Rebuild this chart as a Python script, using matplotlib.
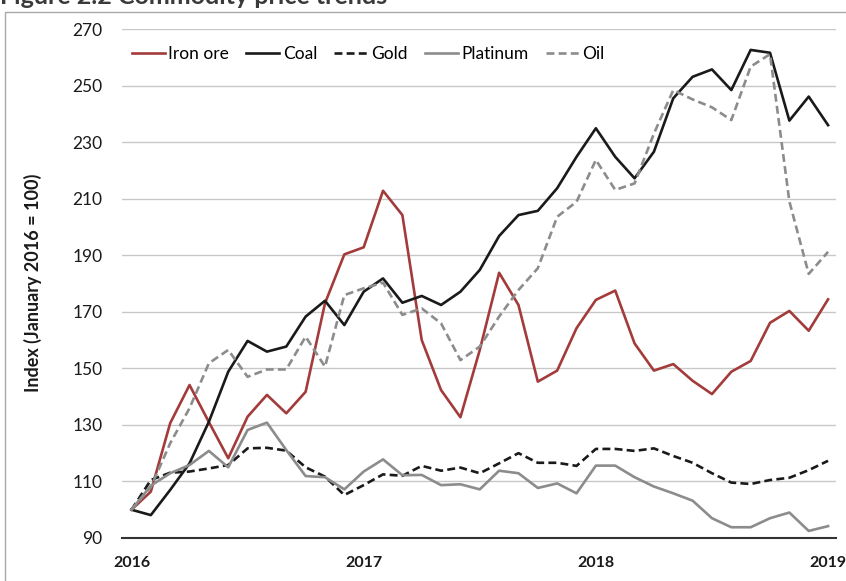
import matplotlib
matplotlib.use("Agg")
import matplotlib.pyplot as plt
from matplotlib.patches import Rectangle

plt.rcParams['font.family'] = ['Lato', 'DejaVu Sans']

# monthly index values, Jan 2016 .. Jan 2019 (Jan 2016 = 100)
months = list(range(37))
iron_ore = [100, 106.4, 130.6, 144.1, 131, 118.2, 132.9, 140.6, 134.1, 141.7,
            173, 190.3, 192.8, 212.8, 204.2, 160.0, 142.3, 132.7, 156.5, 183.8,
            172.4, 145.3, 149.2, 164.2, 174.2, 177.5, 158.8, 149.2, 151.5, 145.6,
            140.9, 148.8, 152.6, 166.1, 170.3, 163.3, 174.4]
coal = [100, 98.1, 107.0, 116.4, 131.1, 148.8, 159.7, 155.9, 157.7, 168.3,
        173.9, 165.3, 177.1, 181.8, 173.2, 175.6, 172.4, 177.1, 184.8, 196.8,
        204.2, 205.7, 213.7, 224.8, 234.9, 224.8, 217.2, 226.6, 245.5, 253.1,
        255.7, 248.4, 262.6, 261.6, 237.6, 246.1, 236.0]
gold = [100, 110.5, 113.1, 113.5, 114.6, 115.8, 121.7, 121.9, 120.9, 115.0,
        111.7, 105.2, 108.7, 112.5, 112.0, 115.5, 113.8, 114.9, 112.9, 116.4,
        120.0, 116.6, 116.6, 115.5, 121.5, 121.5, 120.8, 121.7, 119.0, 116.6,
        112.9, 109.6, 109.1, 110.5, 111.3, 114.0, 117.3]
platinum = [100, 108.5, 112.9, 115.8, 120.8, 115.0, 128.2, 130.8, 121.1, 111.9,
            111.5, 107.2, 113.5, 117.8, 112.2, 112.3, 108.7, 109.0, 107.2, 113.8,
            112.9, 107.7, 109.3, 105.8, 115.6, 115.6, 111.5, 108.2, 105.8, 103.2,
            97.0, 93.8, 93.8, 97.0, 99.0, 92.5, 94.2]
oil = [100, 108, 123.5, 135.9, 151.8, 156.5, 147.0, 149.6, 149.6, 161.2,
       150.6, 175.9, 178.3, 180.3, 168.9, 171.2, 165.9, 152.9, 157.7, 168.3,
       177.7, 185.4, 203.6, 208.9, 223.7, 213.1, 215.4, 233, 248.4, 245.1,
       242.3, 237.8, 256.7, 261.1, 209, 183.4, 191.2]
year_ticks = [0, 12, 24, 36]
year_labels = ['2016', '2017', '2018', '2019']

fig = plt.figure(figsize=(8.46, 5.81), dpi=100)
ax = fig.add_axes([122 / 846, 43 / 581, 714 / 846, 509 / 581])

ax.plot(months, iron_ore, color='#a33b3b', lw=1.9, label='Iron ore')
ax.plot(months, coal, color='#1a1a1a', lw=1.9, label='Coal')
ax.plot(months, gold, color='#1a1a1a', lw=1.9, dashes=(3, 1.6), label='Gold')
ax.plot(months, platinum, color='#8c8c8c', lw=1.9, label='Platinum')
ax.plot(months, oil, color='#8c8c8c', lw=1.9, dashes=(3, 1.6), label='Oil')

ax.set_xlim(-0.49, 36.41)
ax.set_ylim(90, 270)
ax.set_yticks(range(90, 271, 20))
ax.set_xticks(year_ticks)
ax.set_xticklabels(year_labels, fontweight='bold')
ax.tick_params(axis='both', length=0, colors='#1a1a1a')
ax.tick_params(axis='y', pad=14, labelsize=12.5)
ax.tick_params(axis='x', pad=13, labelsize=11.5)
ax.grid(axis='y', color='#c8c8c8', lw=1)
ax.set_axisbelow(True)
for s in ['top', 'right', 'left']:
    ax.spines[s].set_visible(False)
ax.spines['bottom'].set_color('#333333')
ax.spines['bottom'].set_linewidth(1.5)

ax.legend(loc='upper left', ncol=5, frameon=False, fontsize=12.5,
          handlelength=1.9, handletextpad=0.2, columnspacing=1.0,
          bbox_to_anchor=(0.0, 0.985), borderaxespad=0.15)

fig.text(33 / 846, 1 - 283 / 581, 'Index (January 2016 = 100)', rotation=90,
         ha='center', va='center', fontsize=13, fontweight='bold', color='#1a1a1a')
fig.text(0.0, 1 - 4.5 / 581, 'Figure 2.2 Commodity price trends', ha='left',
         va='baseline', fontsize=18, fontweight='bold', color='#3a3a3a')

fig.patches.append(Rectangle((5 / 846, -0.1), 1.2, 1.1 - 12 / 581,
                             transform=fig.transFigure, fill=False,
                             edgecolor='#a8a8a8', lw=1))

fig.savefig('out.png', dpi=100)
